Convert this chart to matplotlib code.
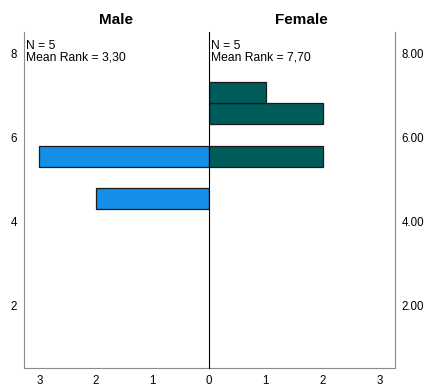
import matplotlib.pyplot as plt
from matplotlib.ticker import FormatStrFormatter

plt.rcParams['font.family'] = ['Liberation Sans', 'DejaVu Sans']

# histogram bins (centre of each bin) and frequencies per group
bin_width = 0.5
male_bins = [4.55, 5.55]
male_counts = [2, 3]
female_bins = [5.55, 6.55, 7.05]
female_counts = [2, 2, 1]

male_n, male_rank = 5, "3,30"
female_n, female_rank = 5, "7,70"

yticks = [2, 4, 6, 8]
male_xticks = [0, 1, 2, 3]
female_xticks = [1, 2, 3]

male_color = '#148ee6'
female_color = '#005c5a'
spine_gray = '#8a8a8a'

fig = plt.figure(figsize=(4.24, 3.88), dpi=100)
ax_m = fig.add_axes([0.0566, 0.0508, 0.4363, 0.8667])
ax_f = fig.add_axes([0.4929, 0.0508, 0.4380, 0.8667])
ax_f.patch.set_visible(False)

ax_m.barh(male_bins, male_counts, height=bin_width, color=male_color,
          edgecolor='#1a1a1a', linewidth=0.9)
ax_f.barh(female_bins, female_counts, height=bin_width, color=female_color,
          edgecolor='#1a1a1a', linewidth=0.9)

for ax in (ax_m, ax_f):
    ax.set_ylim(0.5, 8.5)
    ax.set_yticks(yticks)
    ax.spines['top'].set_visible(False)
    ax.spines['bottom'].set_color(spine_gray)
    ax.tick_params(length=0, labelsize=8.3, pad=5)

ax_m.set_xticks(male_xticks)
ax_f.set_xticks(female_xticks)
ax_m.set_xlim(3.27, 0)
ax_f.set_xlim(0, 3.27)

ax_m.spines['left'].set_color(spine_gray)
ax_m.spines['right'].set_visible(False)
ax_f.spines['left'].set_color('black')
ax_f.spines['left'].set_zorder(5)
ax_f.spines['right'].set_color(spine_gray)

ax_f.yaxis.tick_right()
ax_f.yaxis.set_major_formatter(FormatStrFormatter('%.2f'))

ax_m.set_title('Male', fontsize=11, fontweight='bold', pad=6)
ax_f.set_title('Female', fontsize=11, fontweight='bold', pad=6)

ax_m.text(0.012, 0.975, f"N = {male_n}\nMean Rank = {male_rank}",
          transform=ax_m.transAxes, va='top', ha='left', fontsize=8.7,
          linespacing=0.95)
ax_f.text(0.012, 0.975, f"N = {female_n}\nMean Rank = {female_rank}",
          transform=ax_f.transAxes, va='top', ha='left', fontsize=8.7,
          linespacing=0.95)

fig.savefig('out.png', dpi=100)
